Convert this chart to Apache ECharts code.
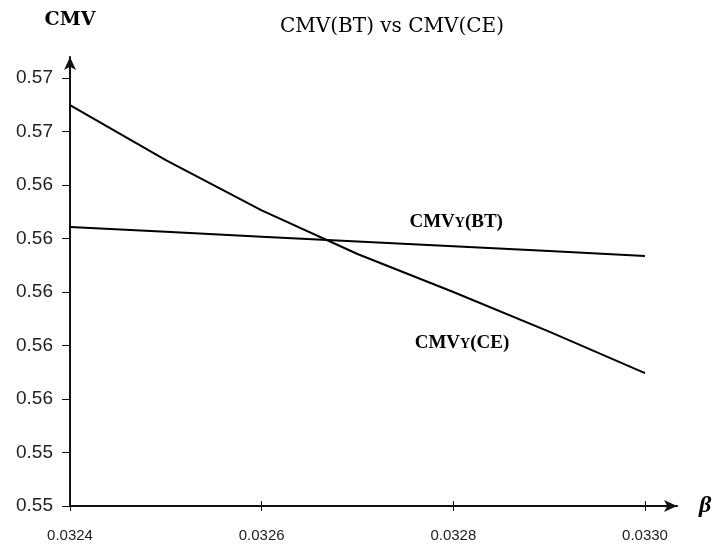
<!DOCTYPE html>
<html>
<head>
<meta charset="utf-8">
<script src="https://cdn.jsdelivr.net/npm/echarts@6/dist/echarts.min.js"></script>
<style>
html,body{margin:0;padding:0;background:#fff;}
#chart{width:716px;height:544px;}
</style>
</head>
<body>
<div id="chart"></div>
<script>
var titleText = 'CMV(BT) vs CMV(CE)';
var yAxisName = 'CMV';
var xAxisName = 'β';
var betaValues = [0.0324, 0.0325, 0.0326, 0.0327, 0.0328, 0.0329, 0.0330];
var cmvCE = [0.56699, 0.56493, 0.56305, 0.56142, 0.56000, 0.55852, 0.55697];
var cmvBT = [0.56243, 0.56225, 0.56207, 0.56189, 0.56171, 0.56153, 0.56135];
var labelBT = {x: 0.032803, y: 0.562617};
var labelCE = {x: 0.032809, y: 0.558093};

function pairs(xs, ys){ return xs.map(function(x,i){ return [x, ys[i]]; }); }

var chart = echarts.init(document.getElementById('chart'), null, {renderer:'canvas'});
var axisColor = '#111';
var labelRich = {
  big: {fontFamily:'Liberation Serif', fontWeight:'bold', fontSize:19, color:'#000'},
  small: {fontFamily:'Liberation Serif', fontWeight:'bold', fontSize:14, color:'#000', padding:[3,0,0,0]}
};
var option = {
  animation: false,
  backgroundColor: '#fff',
  title: {
    text: titleText,
    left: 387, top: 12,
    textAlign: 'center',
    textStyle: {fontFamily:'DejaVu Serif', fontWeight:'normal', fontSize:20, color:'#000'}
  },
  grid: [
    {left:70, right:71, top:78, bottom:38},
    {left:70, right:39, top:57, bottom:38}
  ],
  xAxis: [
    {type:'value', gridIndex:0, min:0.0324, max:0.0330, interval:0.0002,
     axisLine:{show:false},
     axisTick:{show:true, inside:true, length:5, lineStyle:{color:axisColor, width:1}},
     axisLabel:{margin:22, fontFamily:'Liberation Sans', fontSize:15, color:'#222',
       formatter:function(v){return v.toFixed(4);}},
     splitLine:{show:false}},
    {type:'value', gridIndex:0, min:0.0324, max:0.0330, interval:0.0002, position:'bottom',
     axisLine:{show:false},
     axisTick:{show:true, inside:false, length:5, lineStyle:{color:axisColor, width:1}},
     axisLabel:{show:false}, splitLine:{show:false}},
    {type:'value', gridIndex:1, min:0, max:1,
     axisLine:{show:true, symbol:['none','arrow'], symbolSize:[9,13], lineStyle:{color:axisColor, width:2}},
     axisTick:{show:false}, axisLabel:{show:false}, splitLine:{show:false},
     name:xAxisName, nameLocation:'end', nameGap:22,
     nameTextStyle:{fontFamily:'Liberation Serif', fontWeight:'bold', fontStyle:'italic', fontSize:24, color:'#000', verticalAlign:'middle'}}
  ],
  yAxis: [
    {type:'value', gridIndex:0, min:0.552, max:0.568, interval:0.002,
     axisLine:{show:false},
     axisTick:{show:true, inside:false, length:8, lineStyle:{color:axisColor, width:1}},
     axisLabel:{margin:17, fontFamily:'Liberation Sans', fontSize:19, color:'#222',
       formatter:function(v){return (Math.round(v*100)/100).toFixed(2);}},
     splitLine:{show:false}},
    {type:'value', gridIndex:1, min:0, max:1,
     axisLine:{show:true, symbol:['none','arrow'], symbolSize:[9,13], lineStyle:{color:axisColor, width:2}},
     axisTick:{show:false}, axisLabel:{show:false}, splitLine:{show:false},
     name:yAxisName, nameLocation:'end', nameGap:27,
     nameTextStyle:{fontFamily:'DejaVu Serif', fontWeight:'bold', fontSize:19, color:'#000', align:'center'}}
  ],
  series: [
    {type:'line', name:'CMV(CE)', xAxisIndex:0, yAxisIndex:0, data:pairs(betaValues, cmvCE),
     symbol:'none', lineStyle:{color:'#000', width:2}, silent:true,
     markPoint:{symbol:'circle', symbolSize:0, silent:true,
       data:[{coord:[labelCE.x, labelCE.y],
         label:{show:true, position:'inside', formatter:'{big|CMV}{small|Y}{big|(CE)}', rich:labelRich}}]}},
    {type:'line', name:'CMV(BT)', xAxisIndex:0, yAxisIndex:0, data:pairs(betaValues, cmvBT),
     symbol:'none', lineStyle:{color:'#000', width:2}, silent:true,
     markPoint:{symbol:'circle', symbolSize:0, silent:true,
       data:[{coord:[labelBT.x, labelBT.y],
         label:{show:true, position:'inside', formatter:'{big|CMV}{small|Y}{big|(BT)}', rich:labelRich}}]}}
  ]
};
chart.setOption(option);
</script>
</body>
</html>
